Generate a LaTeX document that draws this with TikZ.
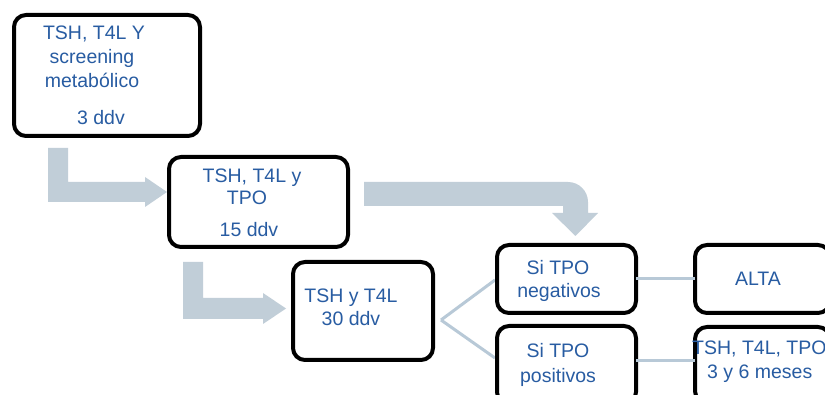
\documentclass[tikz,border=0pt]{standalone}
\usepackage{fontspec}
\setmainfont{Liberation Sans}
\definecolor{txtblue}{RGB}{40,92,162}
\definecolor{arrgrey}{RGB}{193,206,216}
\definecolor{conngrey}{RGB}{184,201,215}
\tikzset{
  box/.style={draw=black, line width=4pt, rounded corners=12pt, fill=white, inner sep=0pt, outer sep=0pt},
  lbl/.style={text=txtblue, font=\fontsize{19.5}{24}\selectfont, inner sep=0pt, anchor=base},
  lblw/.style={lbl, anchor=base west},
  conn/.style={draw=conngrey, line width=3pt},
  bigarrow/.style={fill=arrgrey, draw=none}
}
\begin{document}
\begin{tikzpicture}[x=1pt,y=-1pt]
\useasboundingbox (0,0) rectangle (825,395);
\clip (0,0) rectangle (825,395);
\fill[white] (0,0) rectangle (825,395);
% big grey arrows
\path[bigarrow] (48,148) -- (68,148) -- (68,182) -- (145,182) -- (145,177) -- (167,192) -- (145,207) -- (145,202) -- (48,202) -- cycle;
\path[bigarrow] (183,262) -- (203,262) -- (203,298) -- (263,298) -- (263,293) -- (286,308.5) -- (263,324) -- (263,319) -- (183,319) -- cycle;
\path[bigarrow] (364,182) -- (568,182) .. controls (579,182) and (588,191) .. (588,202) -- (588,213) -- (598,213) -- (575.5,236) -- (552,213) -- (563,213) -- (563,206) -- (364,206) -- cycle;
% boxes
\node[box, minimum width=186pt, minimum height=121pt] (b1) at (107,75.5) {};
\node[box, minimum width=179pt, minimum height=90pt] (b2) at (258.5,202) {};
\node[box, minimum width=140pt, minimum height=98pt] (b3) at (363,311) {};
\coordinate (v) at (441,320);
\draw[conn] (v) -- (495,280) coordinate (negin);
\draw[conn] (v) -- (495,358) coordinate (posin);
\node[box, minimum width=139pt, minimum height=68pt] (neg) at (566.5,279) {};
\node[box, minimum width=139pt, minimum height=78pt] (pos) at (566.5,365) {};
\node[box, minimum width=135pt, minimum height=68pt] (alta) at (762.5,279) {};
\node[box, minimum width=135pt, minimum height=76pt] (ctl) at (762.5,365) {};
\draw[conn] (neg.east) -- (alta.west);
\draw[conn] ([yshift=4pt]pos.east) -- ([yshift=4pt]ctl.west);
% labels
\node[lbl] (t1a) at (94,40) {TSH, T4L Y};
\node[lbl] (t1b) at (92,64) {screening};
\node[lbl] (t1c) at (92,88) {metabólico};
\node[lbl] (t1d) at (101,125) {3 ddv};
\node[lbl] (t2a) at (252,183) {TSH, T4L y};
\node[lbl] (t2b) at (247,205) {TPO};
\node[lbl] (t2c) at (249,237) {15 ddv};
\node[lbl] (t3a) at (351,303) {TSH y T4L};
\node[lbl] (t3b) at (351,326) {30 ddv};
\node[lbl] (t4a) at (558,275) {Si TPO};
\node[lbl] (t4b) at (559,298) {negativos};
\node[lbl] (t5a) at (558,358) {Si TPO};
\node[lbl] (t5b) at (558,382) {positivos};
\node[lbl] (t6) at (758,286) {ALTA};
\node[lblw] (t7a) at (692,355) {TSH, T4L, TPO};
\node[lblw] (t7b) at (707,378) {3 y 6 meses};
\end{tikzpicture}
\end{document}
